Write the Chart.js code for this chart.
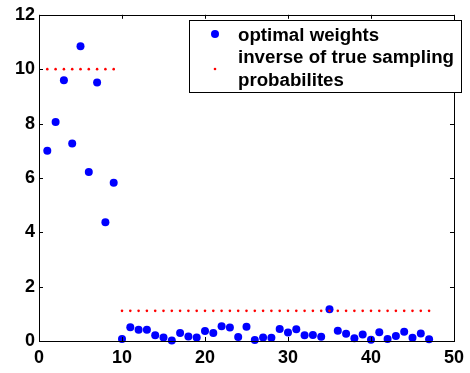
<!DOCTYPE html>
<html>
<head>
<meta charset="utf-8">
<script src="https://cdn.jsdelivr.net/npm/chart.js@4.4.0/dist/chart.umd.min.js"></script>
<style>
  body { margin: 0; background: #fff; }
</style>
</head>
<body>
<canvas id="myChart" width="470" height="373"></canvas>
<script>
// data
var indexX = [1, 2, 3, 4, 5, 6, 7, 8, 9, 10,
    11, 12, 13, 14, 15, 16, 17, 18, 19, 20,
    21, 22, 23, 24, 25, 26, 27, 28, 29, 30,
    31, 32, 33, 34, 35, 36, 37, 38, 39, 40,
    41, 42, 43, 44, 45, 46, 47];
var optimalWeights = [7.0, 8.06, 9.59, 7.27, 10.84, 6.22, 9.51, 4.37, 5.82, 0.07,
    0.51, 0.41, 0.41, 0.21, 0.13, 0.02, 0.29, 0.17, 0.13, 0.37,
    0.29, 0.54, 0.50, 0.15, 0.52, 0.04, 0.13, 0.12, 0.44, 0.31,
    0.43, 0.21, 0.22, 0.16, 1.17, 0.38, 0.27, 0.10, 0.24, 0.05,
    0.32, 0.07, 0.18, 0.34, 0.12, 0.28, 0.06];
var inverseProb = [10, 10, 10, 10, 10, 10, 10, 10, 10, 1.11,
    1.11, 1.11, 1.11, 1.11, 1.11, 1.11, 1.11, 1.11, 1.11, 1.11,
    1.11, 1.11, 1.11, 1.11, 1.11, 1.11, 1.11, 1.11, 1.11, 1.11,
    1.11, 1.11, 1.11, 1.11, 1.11, 1.11, 1.11, 1.11, 1.11, 1.11,
    1.11, 1.11, 1.11, 1.11, 1.11, 1.11, 1.11];
var xTicks = [0, 10, 20, 30, 40, 50];
var yTicks = [0, 2, 4, 6, 8, 10, 12];
var legendLabels = ["optimal weights", "inverse of true sampling", "probabilites"];

function toPoints(xs, ys) {
    return xs.map(function (x, i) { return { x: x, y: ys[i] }; });
}

var font = "'Liberation Sans', Arimo, sans-serif";

// box round the plot, inward ticks, legend
var matlabLook = {
    id: 'matlabLook',
    afterDraw: function (chart) {
        var ctx = chart.ctx;
        var a = chart.chartArea;
        var xs = chart.scales.x, ys = chart.scales.y;
        ctx.save();
        ctx.strokeStyle = '#000';
        ctx.lineWidth = 1;
        ctx.strokeRect(Math.round(a.left) + 0.5, Math.round(a.top) + 0.5,
            Math.round(a.right - a.left), Math.round(a.bottom - a.top));
        ctx.beginPath();
        xTicks.forEach(function (t) {
            var px = Math.round(xs.getPixelForValue(t)) + 0.5;
            ctx.moveTo(px, a.bottom); ctx.lineTo(px, a.bottom - 4);
            ctx.moveTo(px, a.top); ctx.lineTo(px, a.top + 4);
        });
        yTicks.forEach(function (t) {
            var py = Math.round(ys.getPixelForValue(t)) + 0.5;
            ctx.moveTo(a.left, py); ctx.lineTo(a.left + 4, py);
            ctx.moveTo(a.right, py); ctx.lineTo(a.right - 4, py);
        });
        ctx.stroke();

        // legend
        ctx.fillStyle = '#fff';
        ctx.fillRect(189, 20, 272, 72);
        ctx.strokeRect(189.5, 20.5, 272, 72);
        ctx.fillStyle = 'rgb(0,0,255)';
        ctx.beginPath(); ctx.arc(215, 34, 4, 0, Math.PI * 2); ctx.fill();
        ctx.fillStyle = 'rgb(255,0,0)';
        ctx.beginPath(); ctx.arc(215, 69, 1.3, 0, Math.PI * 2); ctx.fill();
        ctx.fillStyle = '#000';
        ctx.font = 'bold 18.7px ' + font;
        ctx.textBaseline = 'middle';
        ctx.textAlign = 'left';
        ctx.fillText(legendLabels[0], 238, 36);
        ctx.fillText(legendLabels[1], 238, 58);
        ctx.fillText(legendLabels[2], 238, 81);
        ctx.restore();
    }
};

var ctx = document.getElementById('myChart').getContext('2d');
var chart = new Chart(ctx, {
    type: 'scatter',
    data: {
        datasets: [{
            label: legendLabels[0],
            data: toPoints(indexX, optimalWeights),
            backgroundColor: 'rgb(0,0,255)',
            borderWidth: 0,
            pointRadius: 4,
            clip: false,
            order: 2
        }, {
            label: legendLabels[1] + ' ' + legendLabels[2],
            data: toPoints(indexX, inverseProb),
            backgroundColor: 'rgb(255,0,0)',
            borderWidth: 0,
            pointRadius: 1.3,
            clip: false,
            order: 1
        }]
    },
    options: {
        responsive: false,
        animation: false,
        layout: { padding: { top: 13, right: 14, left: 0, bottom: 0 } },
        plugins: {
            legend: { display: false },
            tooltip: { enabled: false }
        },
        scales: {
            x: {
                type: 'linear',
                min: 0,
                max: 50,
                afterFit: function (s) { s.height = 32; },
                afterBuildTicks: function (s) { s.ticks = xTicks.map(function (v) { return { value: v }; }); },
                grid: { display: false, drawTicks: false },
                border: { display: false },
                ticks: { color: '#000', padding: 6, maxRotation: 0, font: { family: font, size: 18, weight: 'bold' } }
            },
            y: {
                min: 0,
                max: 12,
                afterFit: function (s) { s.width = 39; },
                afterBuildTicks: function (s) { s.ticks = yTicks.map(function (v) { return { value: v }; }); },
                grid: { display: false, drawTicks: false },
                border: { display: false },
                ticks: { color: '#000', padding: 4, font: { family: font, size: 18, weight: 'bold' } }
            }
        }
    },
    plugins: [matlabLook]
});
</script>
</body>
</html>
